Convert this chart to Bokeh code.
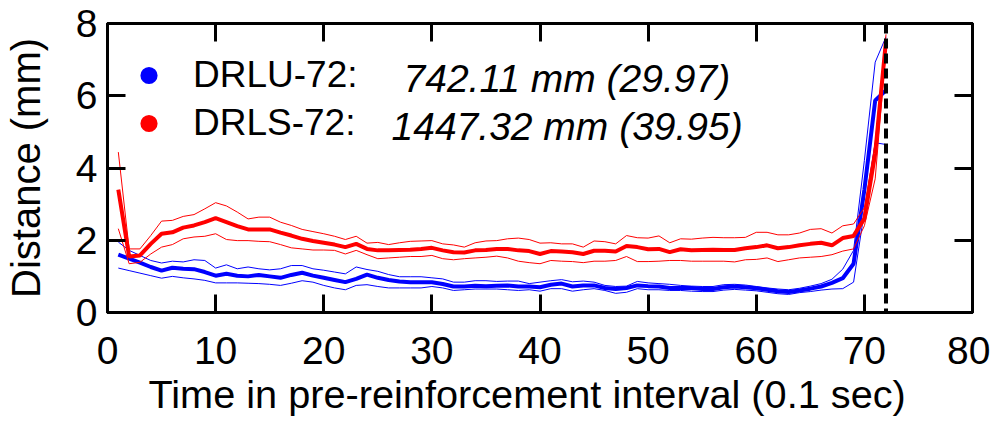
from bokeh.plotting import figure
from bokeh.models import (Range1d, FixedTicker, LinearAxis, Span, Legend,
                          LegendItem, Label, ColumnDataSource, Title)
from bokeh.embed import file_html
from bokeh.resources import INLINE

# ---------------- data ----------------
time_bins = list(range(1, 73))

drlu_mean = [1.60, 1.49, 1.38, 1.26, 1.16, 1.24, 1.21, 1.20, 1.12, 1.02,
             1.07, 1.02, 1.00, 1.04, 1.00, 0.96, 1.04, 1.10, 1.02, 0.96,
             0.90, 0.84, 0.93, 1.05, 0.96, 0.90, 0.86, 0.84, 0.84, 0.84,
             0.79, 0.72, 0.72, 0.74, 0.73, 0.74, 0.75, 0.72, 0.72, 0.70,
             0.77, 0.80, 0.72, 0.75, 0.75, 0.68, 0.65, 0.68, 0.75, 0.73,
             0.72, 0.68, 0.68, 0.68, 0.65, 0.65, 0.70, 0.72, 0.70, 0.67,
             0.63, 0.59, 0.57, 0.61, 0.66, 0.72, 0.82, 0.95, 1.35, 3.40,
             5.87, 6.15]
drlu_upper = [1.95, 1.72, 1.58, 1.44, 1.37, 1.42, 1.40, 1.46, 1.44, 1.23,
              1.32, 1.21, 1.26, 1.21, 1.18, 1.21, 1.30, 1.30, 1.21, 1.17,
              1.12, 1.07, 1.26, 1.19, 1.14, 1.05, 0.99, 0.99, 0.99, 0.96,
              0.93, 0.84, 0.84, 0.88, 0.88, 0.86, 0.87, 0.87, 0.80, 0.84,
              0.88, 0.91, 0.85, 0.87, 0.84, 0.75, 0.72, 0.73, 0.86, 0.82,
              0.80, 0.78, 0.75, 0.73, 0.72, 0.72, 0.77, 0.78, 0.76, 0.72,
              0.68, 0.65, 0.63, 0.67, 0.73, 0.80, 0.92, 1.20, 1.72, 4.21,
              6.93, 7.63]
drlu_lower = [1.23, 1.16, 1.09, 1.02, 0.95, 1.00, 0.96, 0.93, 0.89, 0.82,
              0.82, 0.82, 0.81, 0.80, 0.78, 0.75, 0.81, 0.88, 0.84, 0.75,
              0.68, 0.63, 0.75, 0.77, 0.72, 0.68, 0.68, 0.68, 0.68, 0.72,
              0.68, 0.61, 0.63, 0.65, 0.65, 0.65, 0.63, 0.61, 0.63, 0.59,
              0.66, 0.66, 0.59, 0.63, 0.66, 0.61, 0.53, 0.56, 0.66, 0.63,
              0.63, 0.61, 0.61, 0.59, 0.58, 0.58, 0.62, 0.64, 0.62, 0.60,
              0.56, 0.52, 0.50, 0.55, 0.58, 0.62, 0.65, 0.66, 0.84, 2.80,
              4.70, 4.65]

drls_mean = [3.40, 1.55, 1.58, 1.90, 2.18, 2.22, 2.35, 2.41, 2.50, 2.61,
             2.50, 2.39, 2.30, 2.30, 2.30, 2.21, 2.13, 2.04, 1.98, 1.93,
             1.88, 1.81, 1.90, 1.76, 1.72, 1.72, 1.73, 1.74, 1.76, 1.79,
             1.72, 1.67, 1.66, 1.72, 1.73, 1.76, 1.76, 1.72, 1.70, 1.62,
             1.70, 1.69, 1.67, 1.62, 1.71, 1.71, 1.69, 1.84, 1.81, 1.75,
             1.76, 1.67, 1.75, 1.72, 1.73, 1.74, 1.73, 1.73, 1.78, 1.81,
             1.86, 1.78, 1.81, 1.86, 1.90, 1.93, 1.86, 2.06, 2.12, 2.60,
             4.40, 7.53]
drls_upper = [4.44, 1.76, 1.76, 2.13, 2.53, 2.55, 2.66, 2.71, 2.87, 3.04,
              2.95, 2.78, 2.59, 2.64, 2.64, 2.50, 2.41, 2.30, 2.24, 2.18,
              2.11, 2.02, 2.11, 1.92, 1.94, 1.88, 1.93, 1.97, 1.98, 1.99,
              1.90, 1.87, 1.81, 1.93, 1.98, 1.99, 2.04, 2.06, 2.02, 1.92,
              1.93, 1.90, 1.90, 1.81, 1.98, 1.96, 1.90, 2.13, 2.07, 2.06,
              2.12, 1.93, 2.04, 2.03, 2.06, 2.08, 2.07, 2.07, 2.08, 2.22,
              2.22, 2.15, 2.15, 2.20, 2.30, 2.32, 2.20, 2.40, 2.45, 2.90,
              4.70, 7.70]
drls_lower = [2.32, 1.35, 1.39, 1.62, 1.81, 1.88, 2.04, 2.09, 2.11, 2.18,
              2.02, 1.99, 1.99, 1.97, 1.96, 1.88, 1.79, 1.76, 1.73, 1.73,
              1.72, 1.62, 1.72, 1.60, 1.49, 1.51, 1.53, 1.55, 1.55, 1.58,
              1.49, 1.46, 1.49, 1.51, 1.53, 1.56, 1.51, 1.42, 1.38, 1.35,
              1.44, 1.42, 1.41, 1.38, 1.42, 1.42, 1.44, 1.55, 1.41, 1.41,
              1.42, 1.44, 1.44, 1.42, 1.42, 1.42, 1.42, 1.40, 1.46, 1.47,
              1.51, 1.41, 1.46, 1.51, 1.53, 1.55, 1.60, 1.70, 1.76, 2.40,
              3.70, 7.30]

x_ticks = [0, 10, 20, 30, 40, 50, 60, 70, 80]
y_ticks = [0, 2, 4, 6, 8]
legend_names = ["DRLU-72:", "DRLS-72:"]
legend_stats = ["742.11 mm (29.97)", "1447.32 mm (39.95)"]
series_colors = ["#0000FF", "#FF0000"]
reinforcement_time = 72
x_title = "Time in pre-reinforcement interval (0.1 sec)"
y_title = "Distance (mm)"

FONT = "Liberation Sans"

p = figure(width=990, height=420,
           x_range=Range1d(0, 80), y_range=Range1d(0, 8),
           output_backend="svg", toolbar_location=None,
           min_border_left=107, min_border_top=23,
           min_border_right=18, min_border_bottom=108)
p.xgrid.visible = False
p.ygrid.visible = False
p.outline_line_color = "black"
p.outline_line_width = 3
p.background_fill_color = "white"
p.border_fill_color = "white"


def style_axis(ax, ticks, show_labels):
    ax.ticker = FixedTicker(ticks=ticks)
    ax.axis_line_width = 3
    ax.axis_line_color = "black"
    ax.major_tick_in = 18
    ax.major_tick_out = 0
    ax.major_tick_line_width = 3
    ax.major_tick_line_color = "black"
    ax.minor_tick_line_color = None
    ax.major_label_text_font = FONT
    ax.major_label_text_font_size = "39px"
    ax.major_label_text_color = "black"
    ax.axis_label_text_font = FONT
    ax.axis_label_text_font_size = "40px"
    ax.axis_label_text_font_style = "normal"
    ax.axis_label_text_color = "black"
    if not show_labels:
        ax.major_label_overrides = {t: "" for t in ticks}
        ax.major_label_standoff = 0


style_axis(p.xaxis[0], x_ticks, True)
style_axis(p.yaxis[0], y_ticks, True)
p.yaxis[0].axis_label = y_title
p.xaxis[0].major_label_standoff = 24
p.yaxis[0].major_label_standoff = 10
p.yaxis[0].axis_label_standoff = 25

top_ax = LinearAxis()
style_axis(top_ax, x_ticks, False)
p.add_layout(top_ax, "above")
right_ax = LinearAxis()
style_axis(right_ax, y_ticks, False)
p.add_layout(right_ax, "right")

# x-axis title: a below-panel title, offset from the frame's left edge
p.add_layout(Title(text=x_title, align="left", offset=41, standoff=7,
                   text_font=FONT, text_font_size="39.7px",
                   text_font_style="normal", text_color="black"), "below")

blue = series_colors[0]
red = series_colors[1]

src_u = ColumnDataSource(dict(t=time_bins, m=drlu_mean, hi=drlu_upper, lo=drlu_lower))
src_s = ColumnDataSource(dict(t=time_bins, m=drls_mean, hi=drls_upper, lo=drls_lower))

p.line("t", "hi", source=src_u, line_color=blue, line_width=1)
p.line("t", "lo", source=src_u, line_color=blue, line_width=1)
p.line("t", "m", source=src_u, line_color=blue, line_width=4)
p.line("t", "hi", source=src_s, line_color=red, line_width=1)
p.line("t", "lo", source=src_s, line_color=red, line_width=1)
p.line("t", "m", source=src_s, line_color=red, line_width=4)

p.add_layout(Span(location=reinforcement_time, dimension="height",
                  line_color="black", line_width=4, line_dash="10 5"))

# zero-size markers on the series: only their legend glyph is visible
leg_u = p.scatter("t", "m", source=src_u, marker="circle", size=0,
                  fill_color=blue, line_color=None)
leg_s = p.scatter("t", "m", source=src_s, marker="circle", size=0,
                  fill_color=red, line_color=None)

legend = Legend(items=[LegendItem(label=legend_names[0], renderers=[leg_u]),
                       LegendItem(label=legend_names[1], renderers=[leg_s])],
                location=(20, 167), orientation="vertical",
                border_line_color=None, background_fill_alpha=0,
                padding=0, margin=0, spacing=4,
                glyph_width=43, glyph_height=44, label_height=44,
                label_standoff=23,
                label_text_font=FONT, label_text_font_size="37px",
                label_text_color="black")
p.add_layout(legend)

p.add_layout(Label(x=27.38, y=6.48, text=legend_stats[0],
                   text_font=FONT, text_font_size="39px",
                   text_font_style="italic", text_color="black",
                   text_baseline="alphabetic"))
p.add_layout(Label(x=26.27, y=5.15, text=legend_stats[1],
                   text_font=FONT, text_font_size="39px",
                   text_font_style="italic", text_color="black",
                   text_baseline="alphabetic"))

open("out.html", "w").write(file_html(p, INLINE))
